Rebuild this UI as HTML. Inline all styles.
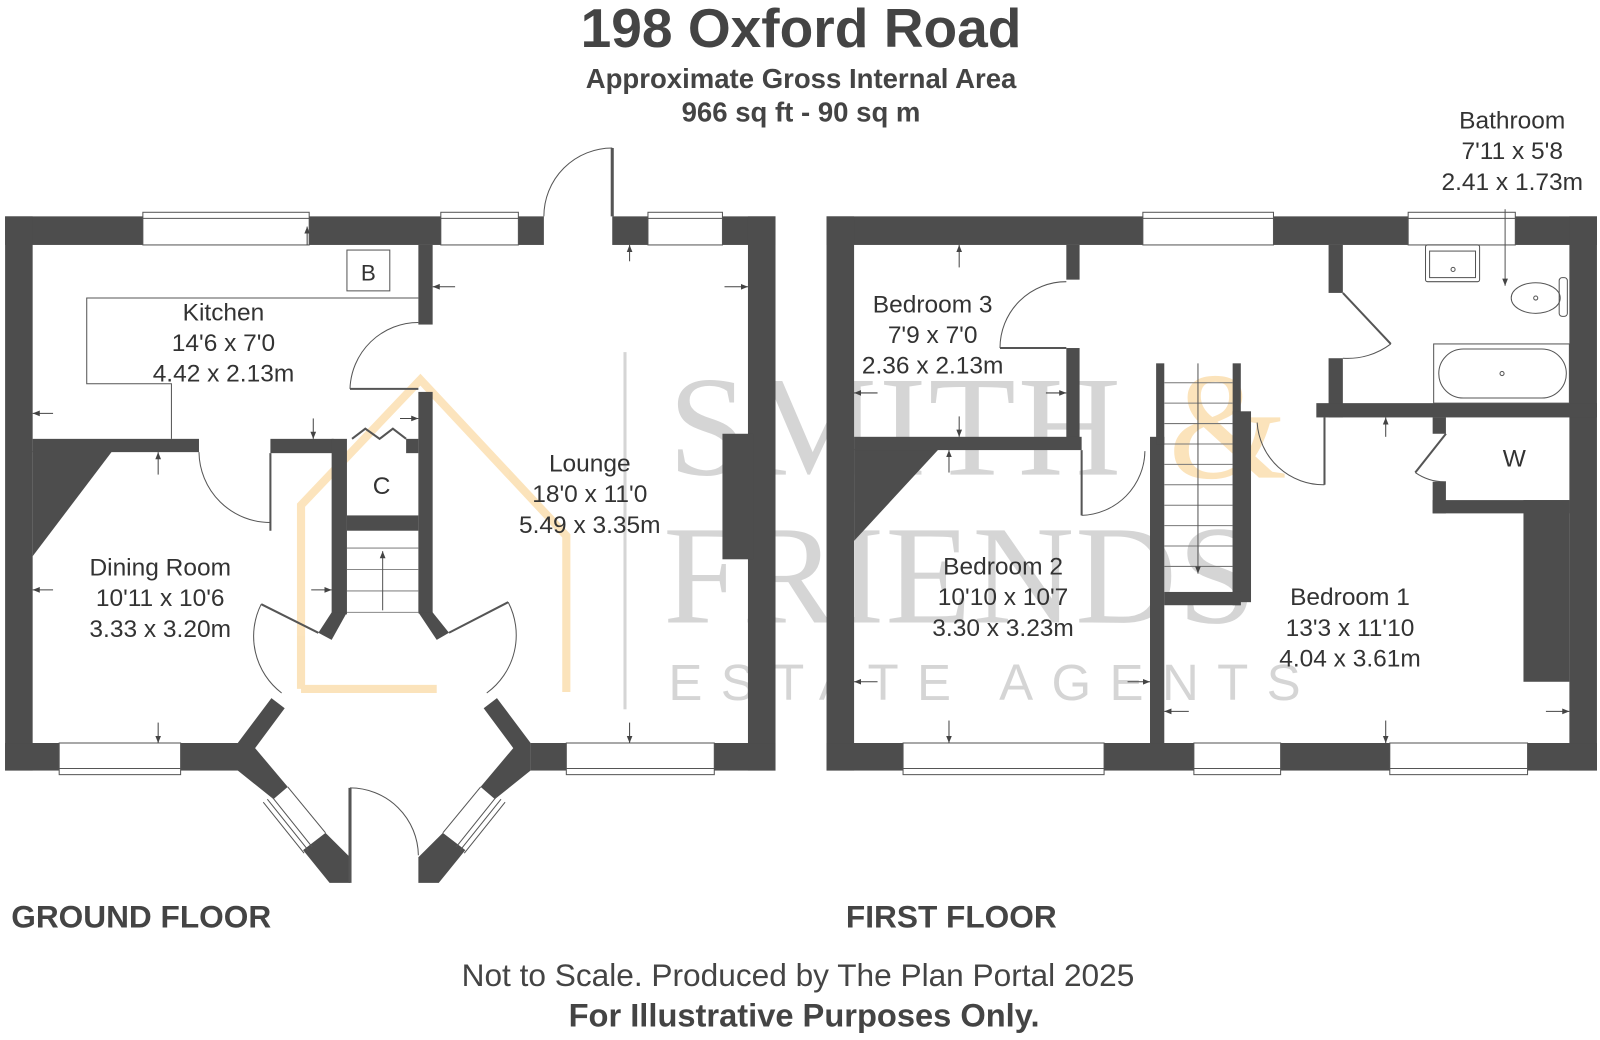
<!DOCTYPE html>
<html><head><meta charset="utf-8"><style>
html,body{margin:0;padding:0;background:#fff;}
svg{display:block;}
</style></head><body>
<svg width="1600" height="1040" viewBox="0 0 1568 1019" preserveAspectRatio="none" xmlns="http://www.w3.org/2000/svg" style="font-family:'Liberation Sans',sans-serif">
<defs><marker id="ah" viewBox="0 0 10 10" refX="10" refY="5" markerWidth="7" markerHeight="7" orient="auto"><path d="M0 1 L10 5 L0 9 z" fill="#444"/></marker></defs>
<rect width="1568" height="1019" fill="#fff"/>
<!-- watermark -->
<g opacity="0.3">
<text x="655" y="465" style="font-family:'Liberation Serif',serif" font-size="140" fill="#777" letter-spacing="2">SMITH</text>
<text x="1145" y="468" style="font-family:'Liberation Serif',serif" font-size="150" fill="#f5a623">&amp;</text>
<text x="650" y="610" style="font-family:'Liberation Serif',serif" font-size="138" fill="#777" letter-spacing="1">FRIENDS</text>
<text x="655" y="686" font-size="50" fill="#777" letter-spacing="18">ESTATE AGENTS</text>
<rect x="611" y="345" width="3" height="350" fill="#777"/>
<polyline points="295,675 295,495 412,372 555,525 555,678" fill="none" stroke="#f5a623" stroke-width="8"/>
<line x1="295" y1="675" x2="428" y2="675" stroke="#f5a623" stroke-width="8"/>
</g>
<text x="785" y="46" text-anchor="middle" font-size="54" font-weight="bold" fill="#444">198 Oxford Road</text>
<text x="785" y="86" text-anchor="middle" font-size="27" font-weight="bold" fill="#444">Approximate Gross Internal Area</text>
<text x="785" y="119" text-anchor="middle" font-size="27" font-weight="bold" fill="#444">966 sq ft - 90 sq m</text>

<g fill="#4d4d4d">
<rect x="5" y="212" width="135" height="28"/>
<rect x="303" y="212" width="129" height="28"/>
<rect x="508" y="212" width="25" height="28"/>
<rect x="600" y="212" width="35" height="28"/>
<rect x="708" y="212" width="52" height="28"/>
<rect x="5" y="212" width="27" height="543"/>
<rect x="733" y="212" width="27" height="543"/>
<rect x="708" y="425" width="30" height="123"/>
<rect x="5" y="728" width="53" height="27"/>
<rect x="177" y="728" width="58" height="27"/>
<rect x="520" y="728" width="35" height="27"/>
<rect x="700" y="728" width="60" height="27"/>
<polygon points="32,442 110,442 32,545"/>
<polygon points="233,728 266,684 279,694 250,733 282,771 268,783 233,755"/>
<polygon points="297,833 319,816 343,840 343,865 323,865"/>
<polygon points="520,728 487,684 474,694 503,733 471,771 485,783 520,755"/>
<polygon points="456,833 434,816 410,840 410,865 430,865"/>
<rect x="410" y="240" width="14" height="78"/>
<rect x="410" y="384" width="14" height="217"/>
<rect x="32" y="430" width="163" height="13"/>
<rect x="265" y="430" width="62" height="14"/>
<rect x="325" y="430" width="15" height="172"/>
<rect x="340" y="505" width="70" height="15"/>
<rect x="398" y="430" width="12" height="14"/>
<polygon points="325,600 340,600 325,627 312,620"/>
<polygon points="410,600 424,600 440,620 428,627"/>
<rect x="810" y="212" width="310" height="28"/>
<rect x="1248" y="212" width="132" height="28"/>
<rect x="1485" y="212" width="80" height="28"/>
<rect x="810" y="212" width="27" height="543"/>
<rect x="1538" y="212" width="27" height="543"/>
<rect x="810" y="728" width="75" height="27"/>
<rect x="1082" y="728" width="88" height="27"/>
<rect x="1255" y="728" width="107" height="27"/>
<rect x="1497" y="728" width="68" height="27"/>
<polygon points="837,440 920,440 837,530"/>
<rect x="1045" y="240" width="13" height="34"/>
<rect x="1045" y="341" width="13" height="99"/>
<rect x="837" y="428" width="223" height="13"/>
<rect x="1127" y="428" width="14" height="300"/>
<rect x="1133" y="356" width="8" height="80"/>
<rect x="1208" y="356" width="8" height="237"/>
<rect x="1208" y="403" width="18" height="187"/>
<rect x="1141" y="580" width="75" height="13"/>
<rect x="1302" y="240" width="14" height="47"/>
<rect x="1302" y="351" width="14" height="58"/>
<rect x="1290" y="395" width="275" height="14"/>
<rect x="1404" y="409" width="13" height="16"/>
<rect x="1404" y="472" width="13" height="31"/>
<rect x="1404" y="490" width="134" height="13"/>
<rect x="1493" y="490" width="45" height="178"/>
</g>
<g fill="none" stroke="#555" stroke-width="1">
<rect x="140" y="208" width="163" height="32"/><line x1="140" y1="214" x2="303" y2="214"/>
<rect x="432" y="208" width="76" height="32"/><line x1="432" y1="214" x2="508" y2="214"/>
<rect x="635" y="208" width="73" height="32"/><line x1="635" y1="214" x2="708" y2="214"/>
<rect x="58" y="728" width="119" height="31"/><line x1="58" y1="753" x2="177" y2="753"/>
<rect x="555" y="728" width="145" height="31"/><line x1="555" y1="753" x2="700" y2="753"/>
<line x1="282" y1="771" x2="319" y2="816"/>
<line x1="262" y1="783" x2="302" y2="833"/><line x1="258" y1="786" x2="298" y2="836"/><line x1="266" y1="780" x2="306" y2="830"/>
<line x1="471" y1="771" x2="434" y2="816"/>
<line x1="491" y1="783" x2="451" y2="833"/><line x1="495" y1="786" x2="455" y2="836"/><line x1="487" y1="780" x2="447" y2="830"/>
<line x1="600" y1="145" x2="600" y2="212" stroke-width="3"/><path d="M533 212 A67 67 0 0 1 600 145"/>
<line x1="343" y1="381" x2="410" y2="381" stroke-width="2"/><path d="M343 381 A67 67 0 0 1 410 316"/>
<line x1="265" y1="444" x2="265" y2="520" stroke-width="2"/><path d="M195 443 A70 70 0 0 0 265 512"/>
<line x1="256" y1="592" x2="312" y2="620" stroke-width="2"/><path d="M256 592 A70 70 0 0 0 276 679"/>
<line x1="440" y1="620" x2="498" y2="590" stroke-width="2"/><path d="M498 590 A70 70 0 0 1 477 679"/>
<line x1="343" y1="772" x2="343" y2="865" stroke-width="3"/><path d="M343 772 A67 67 0 0 1 410 838"/>
<polyline points="345,430 358,420 372,430 385,420 398,430" stroke-width="2"/>
<polyline points="410,292 85,292 85,376 168,376 168,430"/>
<rect x="340" y="245" width="42" height="40"/>
<g stroke="#888"><line x1="340" y1="537" x2="410" y2="537"/><line x1="340" y1="558" x2="410" y2="558"/><line x1="340" y1="579" x2="410" y2="579"/><line x1="340" y1="600" x2="410" y2="600"/></g>
<line x1="375" y1="598" x2="375" y2="540" marker-end="url(#ah)"/>
<rect x="1120" y="208" width="128" height="32"/><line x1="1120" y1="214" x2="1248" y2="214"/>
<rect x="1380" y="208" width="105" height="32"/><line x1="1380" y1="214" x2="1485" y2="214"/>
<rect x="885" y="728" width="197" height="31"/><line x1="885" y1="753" x2="1082" y2="753"/>
<rect x="1170" y="728" width="85" height="31"/><line x1="1170" y1="753" x2="1255" y2="753"/>
<rect x="1362" y="728" width="135" height="31"/><line x1="1362" y1="753" x2="1497" y2="753"/>
<line x1="980" y1="341" x2="1045" y2="341" stroke-width="2"/><path d="M980 341 A65 65 0 0 1 1045 276"/>
<line x1="1060" y1="441" x2="1060" y2="505" stroke-width="2"/><path d="M1060 505 A64 64 0 0 0 1122 442"/>
<line x1="1316" y1="287" x2="1363" y2="337" stroke-width="2"/><path d="M1363 337 A70 70 0 0 1 1316 351"/>
<line x1="1298" y1="409" x2="1298" y2="475" stroke-width="2"/><path d="M1232 414 A65 65 0 0 0 1298 475"/>
<line x1="1417" y1="425" x2="1387" y2="463" stroke-width="2"/><path d="M1387 463 A50 50 0 0 0 1417 472"/>
<g stroke="#777"><line x1="1141" y1="375" x2="1208" y2="375"/><line x1="1141" y1="395" x2="1208" y2="395"/><line x1="1141" y1="415" x2="1208" y2="415"/><line x1="1141" y1="435" x2="1208" y2="435"/><line x1="1141" y1="455" x2="1208" y2="455"/><line x1="1141" y1="475" x2="1208" y2="475"/><line x1="1141" y1="495" x2="1208" y2="495"/><line x1="1141" y1="515" x2="1208" y2="515"/><line x1="1141" y1="535" x2="1208" y2="535"/><line x1="1141" y1="555" x2="1208" y2="555"/></g>
<line x1="1174" y1="356" x2="1174" y2="562" marker-end="url(#ah)"/>
<rect x="1397" y="240" width="53" height="36" rx="2"/><rect x="1401" y="246" width="45" height="26"/>
<ellipse cx="1505" cy="292" rx="24" ry="15"/><rect x="1528" y="272" width="8" height="38" rx="3"/>
<rect x="1405" y="337" width="133" height="58"/><rect x="1410" y="342" width="125" height="48" rx="24"/>
<circle cx="1472" cy="366" r="2"/><circle cx="1505" cy="292" r="2"/><circle cx="1424" cy="264" r="2"/>
<line x1="1475" y1="205" x2="1475" y2="280" marker-end="url(#ah)"/>
</g>
<g stroke="#444" stroke-width="1" marker-end="url(#ah)">
<line x1="301" y1="240" x2="301" y2="222"/>
<line x1="446" y1="281" x2="424" y2="281"/><line x1="710" y1="281" x2="733" y2="281"/>
<line x1="617" y1="256" x2="617" y2="240"/><line x1="617" y1="708" x2="617" y2="728"/>
<line x1="52" y1="405" x2="32" y2="405"/><line x1="307" y1="410" x2="307" y2="430"/>
<line x1="155" y1="465" x2="155" y2="443"/><line x1="52" y1="578" x2="32" y2="578"/>
<line x1="305" y1="578" x2="325" y2="578"/><line x1="155" y1="708" x2="155" y2="728"/>
<line x1="392" y1="410" x2="410" y2="410"/>
<line x1="940" y1="262" x2="940" y2="240"/><line x1="940" y1="408" x2="940" y2="428"/>
<line x1="860" y1="385" x2="837" y2="385"/><line x1="1025" y1="385" x2="1045" y2="385"/>
<line x1="930" y1="463" x2="930" y2="441"/><line x1="860" y1="668" x2="837" y2="668"/>
<line x1="930" y1="706" x2="930" y2="728"/><line x1="1105" y1="668" x2="1127" y2="668"/>
<line x1="1165" y1="697" x2="1141" y2="697"/><line x1="1515" y1="697" x2="1538" y2="697"/>
<line x1="1358" y1="706" x2="1358" y2="728"/><line x1="1358" y1="428" x2="1358" y2="409"/>
</g>
<g fill="#333" font-size="24" text-anchor="middle">
<text x="219" y="314">Kitchen</text><text x="219" y="344">14'6 x 7'0</text><text x="219" y="374">4.42 x 2.13m</text>
<text x="361" y="275" font-size="22">B</text><text x="374" y="484">C</text>
<text x="578" y="462">Lounge</text><text x="578" y="492">18'0 x 11'0</text><text x="578" y="522">5.49 x 3.35m</text>
<text x="157" y="564">Dining Room</text><text x="157" y="594">10'11 x 10'6</text><text x="157" y="624">3.33 x 3.20m</text>
<text x="914" y="306">Bedroom 3</text><text x="914" y="336">7'9 x 7'0</text><text x="914" y="366">2.36 x 2.13m</text>
<text x="983" y="563">Bedroom 2</text><text x="983" y="593">10'10 x 10'7</text><text x="983" y="623">3.30 x 3.23m</text>
<text x="1323" y="593">Bedroom 1</text><text x="1323" y="623">13'3 x 11'10</text><text x="1323" y="653">4.04 x 3.61m</text>
<text x="1484" y="457">W</text>
<text x="1482" y="126">Bathroom</text><text x="1482" y="156">7'11 x 5'8</text><text x="1482" y="186">2.41 x 1.73m</text>
</g>
<g fill="#444" font-weight="bold" font-size="31">
<text x="11" y="909">GROUND FLOOR</text><text x="829" y="909">FIRST FLOOR</text>
</g>
<text x="782" y="966" text-anchor="middle" font-size="31" fill="#444">Not to Scale. Produced by The Plan Portal 2025</text>
<text x="788" y="1006" text-anchor="middle" font-size="32" font-weight="bold" fill="#444">For Illustrative Purposes Only.</text>
</svg>
</body></html>
